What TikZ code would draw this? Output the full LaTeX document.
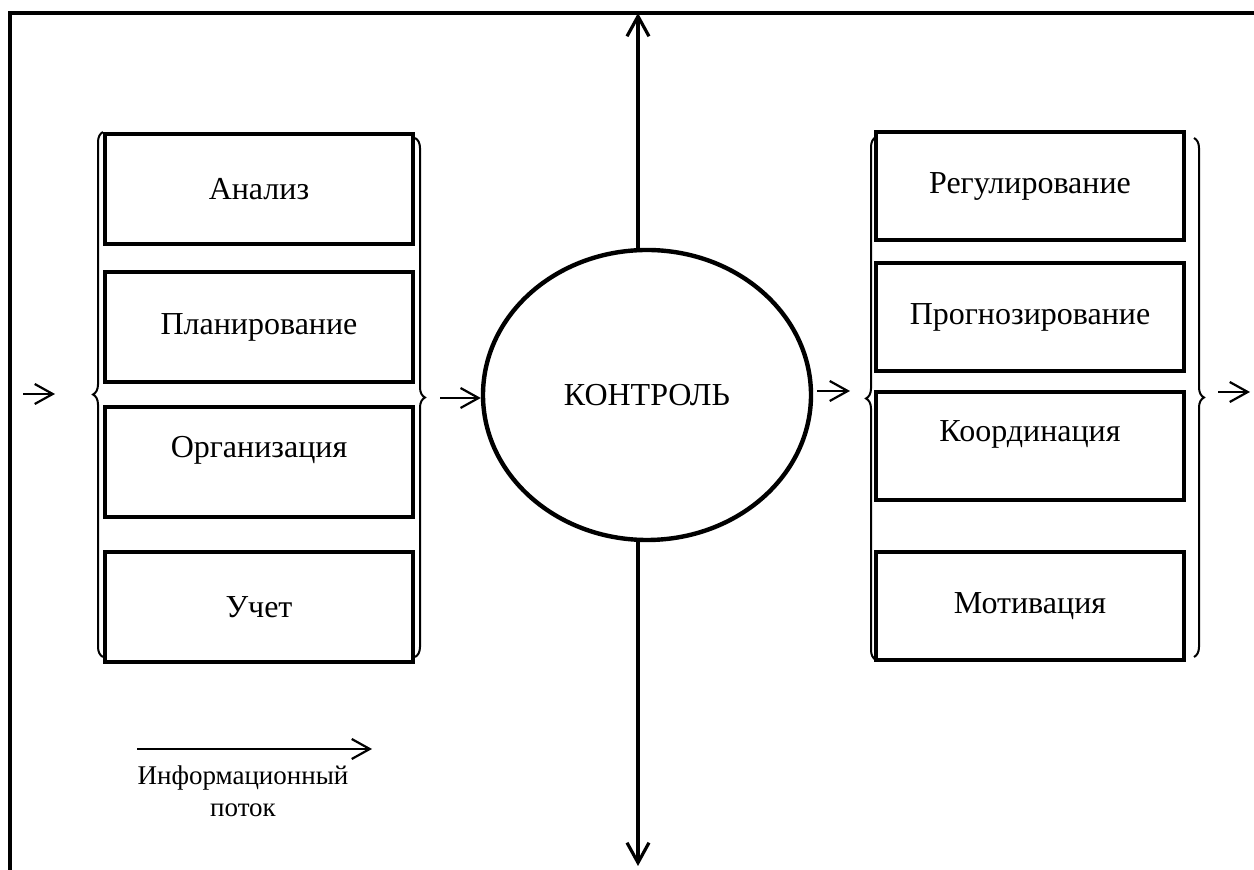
\documentclass[tikz,border=0pt]{standalone}
\usepackage{fontspec}
\setmainfont{Liberation Serif}
\usetikzlibrary{shapes.geometric,decorations.pathreplacing,arrows.meta}
\begin{document}
\begin{tikzpicture}
  [x=0.5pt, y=0.5pt,
    box/.style={draw=black, line width=2.3pt, minimum width=154pt,
    minimum height=55pt, inner sep=0pt, font=\fontsize{16}{19}\selectfont},
    hi/.style={text depth=15pt},
    brk/.style={draw=black, line width=1pt, decorate,
    decoration={brace, amplitude=5pt}},
    fl/.style={draw=black, line width=1.1pt, -{Straight Barb[length=9pt,width=10pt]}},
    vert/.style={draw=black, line width=1.6pt, -{Straight Barb[length=10pt,width=11pt]}}
  ]
  \useasboundingbox (0,0) rectangle (1254,-870);
  \draw [line width=2.2pt] (1262,-13) -- (10,-13) -- (10,-880);

  % left group
  \node (an)  at (259,-189) [box]     {Анализ};
  \node (pl)  at (259,-327) [box]     {Планирование};
  \node (org) at (259,-462) [box, hi] {Организация};
  \node (uch) at (259,-607) [box]     {Учет};
  \draw [brk] (103,-657) -- (103,-132);
  \draw [brk] (415,-138) -- (415,-657);

  % control
  \node (ctrl) at (647,-395) [ellipse, draw=black, line width=2.2pt, inner sep=0pt,
    minimum width=164pt, minimum height=145pt, font=\fontsize{16}{19}\selectfont] {КОНТРОЛЬ};

  % right group
  \node (reg)   at (1030,-186) [box, minimum height=54pt] {Регулирование};
  \node (prog)  at (1030,-317) [box, minimum height=54pt] {Прогнозирование};
  \node (koord) at (1030,-446) [box, minimum height=54pt, hi] {Координация};
  \node (motiv) at (1030,-606) [box, minimum height=54pt] {Мотивация};
  \draw [brk] (876,-660) -- (876,-137);
  \draw [brk] (1194,-138) -- (1194,-657);

  % flow
  \coordinate (in0) at (23,-394);
  \coordinate (in1) at (55,-394);
  \coordinate (g1)  at (440,-398);
  \coordinate (g2)  at (817,-391);
  \coordinate (g3)  at (850,-391);
  \coordinate (out0) at (1218,-392);
  \coordinate (out1) at (1250,-392);
  \coordinate (top) at (638,-13);
  \coordinate (bot) at (638,-866);
  \draw [fl] (in0) -- (in1);
  \draw [fl] (g1) -- (g1 -| ctrl.west);
  \draw [fl] (g2) -- (g3);
  \draw [fl] (out0) -- (out1);
  \draw [vert] (ctrl.north -| top) -- (top);
  \draw [vert] (ctrl.south -| bot) -- (bot);

  % legend
  \coordinate (i0) at (137,-749);
  \coordinate (i1) at (372,-749);
  \draw [fl] (i0) -- (i1);
  \node (info) at (243,-791) [align=center, font=\fontsize{13.5}{16}\selectfont]
    {Информационный\\поток};
\end{tikzpicture}
\end{document}
